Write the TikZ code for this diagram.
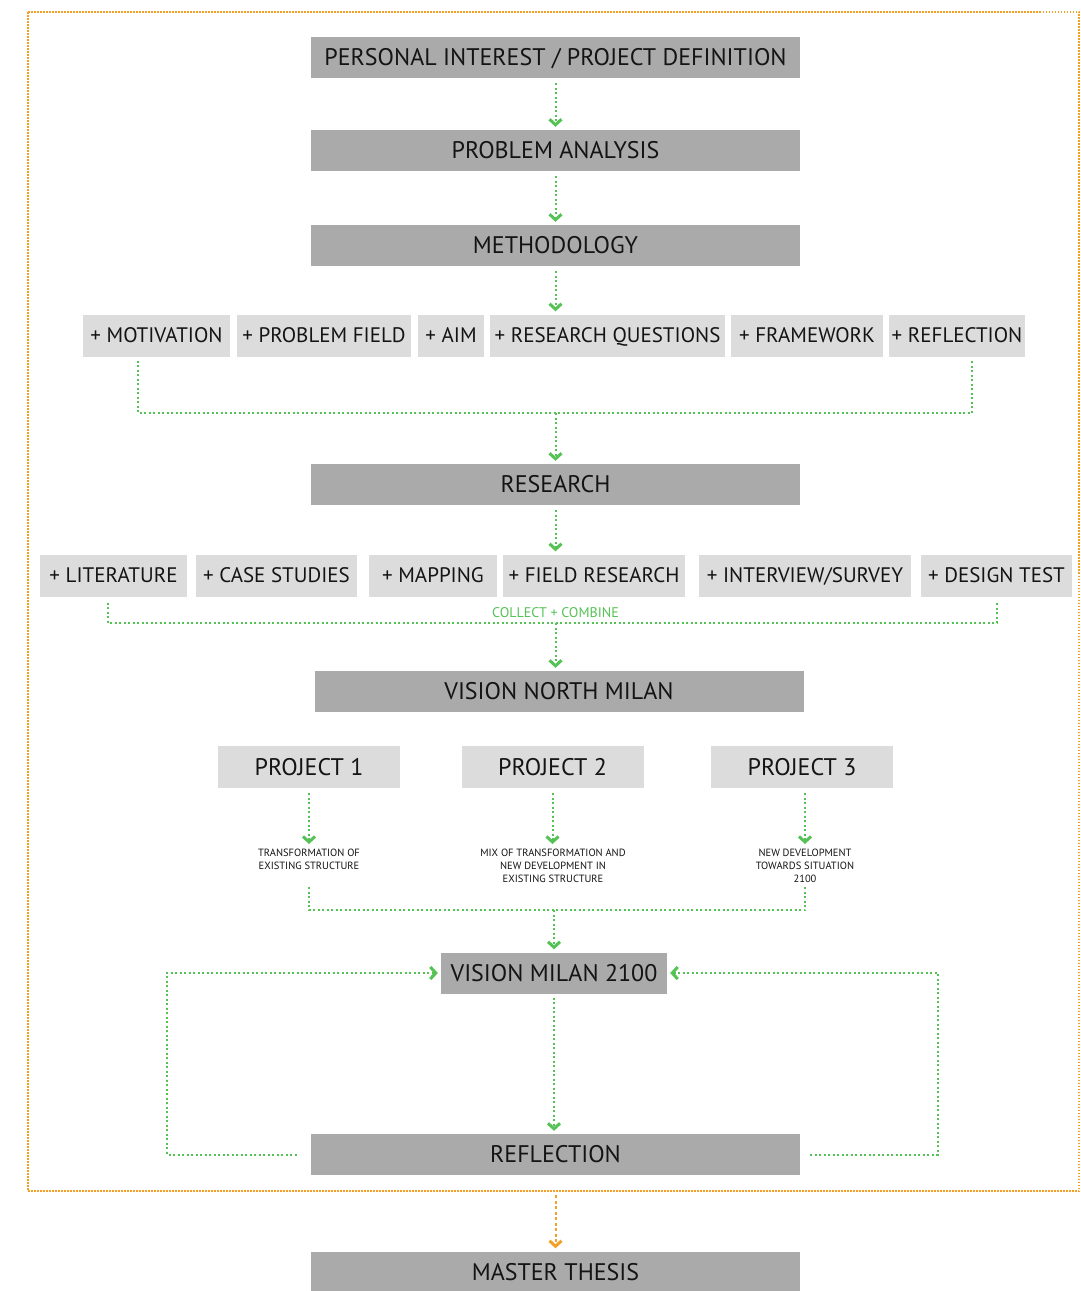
\documentclass[tikz,border=0pt]{standalone}
\usepackage{fontspec}
\setmainfont{PT Sans}
\usetikzlibrary{arrows.meta}
\definecolor{boxdark}{RGB}{170,170,170}
\definecolor{boxlight}{RGB}{220,220,220}
\definecolor{flowgreen}{RGB}{84,194,84}
\definecolor{frameorange}{RGB}{242,160,40}
\definecolor{ink}{RGB}{20,20,20}
\tikzset{
  mainbox/.style={fill=boxdark, text=ink, minimum width=489, minimum height=41,
    inner sep=0pt, text height=16.8pt, text depth=0pt, font=\fontsize{24}{26}\selectfont},
  subbox/.style={fill=boxlight, text=ink, minimum height=42, inner sep=0pt,
    text height=14.7pt, text depth=0pt, font=\fontsize{21}{23}\selectfont},
  projbox/.style={subbox, minimum width=182, text height=16.8pt, font=\fontsize{24}{26}\selectfont},
  note/.style={text=ink, align=center, inner sep=2pt, font=\fontsize{10.5}{13}\selectfont},
  flow/.style={draw=flowgreen, line width=2pt, dash pattern=on 2pt off 2.5pt},
  flowarrow/.style={flow, -{Straight Barb[length=5.5pt,width=12pt,line width=3pt]}, shorten >=3pt},
  framedots/.style={draw=frameorange, line width=1.6pt, dash pattern=on 1.5pt off 1.5pt},
  framearrow/.style={draw=frameorange, line width=2pt, dash pattern=on 3pt off 2.5pt,
    -{Straight Barb[length=5.5pt,width=12pt,line width=3pt]}, shorten >=3pt},
}
\begin{document}
\begin{tikzpicture}[x=1pt,y=-1pt]
\useasboundingbox (0,0) rectangle (1081,1291);
\draw[framedots] (28,12) rectangle (1079,1191);
\coordinate (frameout) at (555.5,1191);
% main steps
\node[mainbox] (interest) at (555.5,57.5) {PERSONAL INTEREST / PROJECT DEFINITION};
\node[mainbox] (analysis) at (555.5,150.5) {PROBLEM ANALYSIS};
\node[mainbox] (method) at (555.5,245.5) {METHODOLOGY};
\node[subbox, minimum width=147] (motiv) at (156.5,335.5) {+ MOTIVATION};
\node[subbox, minimum width=174] (field) at (324,335.5) {+ PROBLEM FIELD};
\node[subbox, minimum width=66] (aim) at (451,335.5) {+ AIM};
\node[subbox, minimum width=235] (questions) at (607.5,335.5) {+ RESEARCH QUESTIONS};
\node[subbox, minimum width=152] (framework) at (807,335.5) {+ FRAMEWORK};
\node[subbox, minimum width=136] (reflect) at (957,335.5) {+ REFLECTION};
\node[mainbox] (research) at (555.5,484.5) {RESEARCH};
\node[subbox, minimum width=147] (literature) at (113.5,575.5) {+ LITERATURE};
\node[subbox, minimum width=161] (cases) at (276.5,575.5) {+ CASE STUDIES};
\node[subbox, minimum width=128] (mapping) at (433,575.5) {+ MAPPING};
\node[subbox, minimum width=182] (fieldres) at (594,575.5) {+ FIELD RESEARCH};
\node[subbox, minimum width=212] (interview) at (805,575.5) {+ INTERVIEW/SURVEY};
\node[subbox, minimum width=151] (designtest) at (996.5,575.5) {+ DESIGN TEST};
\node[text=flowgreen, inner sep=0pt, font=\fontsize{14}{16}\selectfont] (collect) at (555.5,613) {COLLECT + COMBINE};
\node[mainbox] (north) at (559,691.5) {VISION NORTH MILAN};
\node[projbox] (proj1) at (309,767) {PROJECT 1};
\node[projbox] (proj2) at (552.5,767) {PROJECT 2};
\node[projbox] (proj3) at (802,767) {PROJECT 3};
\node[note] (note1) at (309,859.5) {TRANSFORMATION OF\\EXISTING STRUCTURE};
\node[note] (note2) at (553,866) {MIX OF TRANSFORMATION AND\\NEW DEVELOPMENT IN\\EXISTING STRUCTURE};
\node[note] (note3) at (805,866) {NEW DEVELOPMENT\\TOWARDS SITUATION\\2100};
\node[mainbox, minimum width=226] (milan) at (554,973) {VISION MILAN 2100};
\node[mainbox] (reflection) at (555.5,1154.5) {REFLECTION};
\node[mainbox] (thesis) at (555.5,1272) {MASTER THESIS};
% connectors
\coordinate (top1) at (138,413);
\coordinate (top2) at (972,413);
\coordinate (low1) at (108,623);
\coordinate (low2) at (997,623);
\coordinate (join1) at (309,910);
\coordinate (join3) at (805,910);
\coordinate (loopL) at (167,1060);
\coordinate (loopR) at (938,1060);
\draw[flowarrow] ([yshift=-5pt]interest.south) -- (analysis.north);
\draw[flowarrow] ([yshift=-5pt]analysis.south) -- (method.north);
\draw[flowarrow] ([yshift=-5pt]method.south) -- (method.south |- questions.north);
\draw[flow] ([yshift=-4pt]motiv.south -| top1) -- (top1) -- (top2) -- ([yshift=-4pt]reflect.south -| top2);
\draw[flowarrow] (research.north |- top1) -- (research.north);
\draw[flowarrow] ([yshift=-5pt]research.south) -- (research.south |- fieldres.north);
\draw[flow] ([yshift=-6pt]literature.south -| low1) -- (low1) -- (low2) -- ([yshift=-6pt]designtest.south -| low2);
\draw[flowarrow] (research.south |- low1) -- (research.south |- north.north);
\draw[flowarrow] ([yshift=-5pt]proj1.south) -- (proj1.south |- note1.north);
\draw[flowarrow] ([yshift=-5pt]proj2.south) -- (proj2.south |- note2.north);
\draw[flowarrow] ([yshift=-5pt]note3.north |- proj3.south) -- (note3.north);
\draw[flow] ([yshift=-2pt]note1.south |- note2.south) -- (join1) -- (join3) -- ([yshift=-2pt]note3.south);
\draw[flowarrow] (milan.north |- join1) -- (milan.north);
\draw[flowarrow] ([yshift=-4pt]milan.south) -- (milan.south |- reflection.north);
\draw[flowarrow] ([xshift=-14pt]reflection.west) -| (loopL) |- (milan.west);
\draw[flowarrow] ([xshift=10pt]reflection.east) -| (loopR) |- (milan.east);
\draw[framearrow] ([yshift=-4pt]frameout) -- (thesis.north);
\end{tikzpicture}
\end{document}
